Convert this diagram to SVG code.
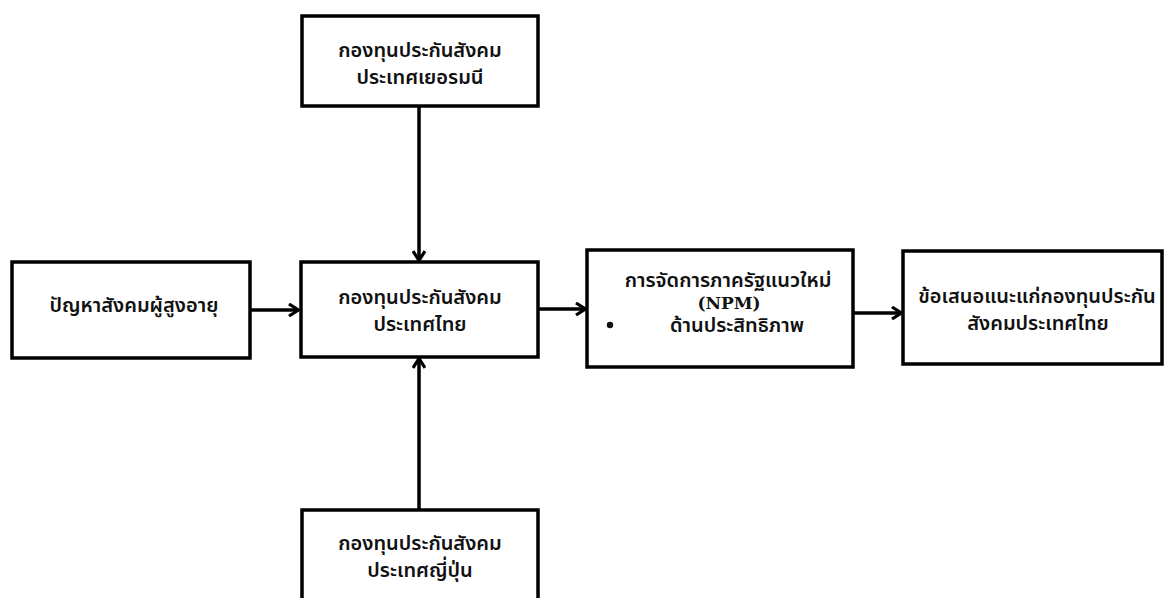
<svg xmlns="http://www.w3.org/2000/svg" width="1166" height="598" viewBox="0 0 1166 598">
<defs>
<marker id="ah" markerWidth="14" markerHeight="14" refX="11" refY="7" orient="auto" markerUnits="userSpaceOnUse" viewBox="0 0 14 14">
<path d="M2,1 L11.5,7 L2,13" fill="none" stroke="#000" stroke-width="3.2" stroke-linejoin="miter"/>
</marker>
<style>
.box{fill:#fff;stroke:#000;stroke-width:3.5}
.t{font-family:"Noto Sans","Noto Sans Thai","Noto Sans CJK SC",sans-serif;font-size:20px;font-weight:600;fill:#111;text-anchor:middle}
.s{font-family:"DejaVu Serif","Liberation Serif",serif;font-size:17px;font-weight:600;fill:#111;text-anchor:middle}
.c{stroke:#000;stroke-width:3.5;fill:none;marker-end:url(#ah)}
</style>
</defs>
<g id="connectors">
<line class="c" x1="419" y1="107" x2="419" y2="260"/>
<line class="c" x1="419" y1="510" x2="419" y2="359"/>
<line class="c" x1="250" y1="310" x2="298" y2="310"/>
<line class="c" x1="538" y1="309" x2="585" y2="309"/>
<line class="c" x1="853" y1="313" x2="901" y2="313"/>
</g>
<g id="germany">
<rect class="box" x="302" y="16" width="236" height="90"/>
<text class="t" x="420" y="57">กองทุนประกันสังคม</text>
<text class="t" x="420" y="84">ประเทศเยอรมนี</text>
</g>
<g id="problem">
<rect class="box" x="12" y="262" width="238" height="96"/>
<text class="t" x="134" y="312">ปัญหาสังคมผู้สูงอายุ</text>
</g>
<g id="thailand">
<rect class="box" x="301" y="262" width="237" height="95"/>
<text class="t" x="420" y="304">กองทุนประกันสังคม</text>
<text class="t" x="420" y="331">ประเทศไทย</text>
</g>
<g id="npm">
<rect class="box" x="587" y="250" width="266" height="117"/>
<text class="t" x="728" y="287">การจัดการภาครัฐแนวใหม่</text>
<text class="s" x="729" y="309">(NPM)</text>
<circle cx="610" cy="325" r="3.2" fill="#111"/>
<text class="t" x="737" y="332">ด้านประสิทธิภาพ</text>
</g>
<g id="proposal">
<rect class="box" x="903" y="251" width="259" height="113"/>
<text class="t" x="1037" y="303">ข้อเสนอแนะแก่กองทุนประกัน</text>
<text class="t" x="1038" y="330">สังคมประเทศไทย</text>
</g>
<g id="japan">
<rect class="box" x="302" y="510" width="236" height="100"/>
<text class="t" x="420" y="550">กองทุนประกันสังคม</text>
<text class="t" x="420" y="577">ประเทศญี่ปุ่น</text>
</g>
</svg>
